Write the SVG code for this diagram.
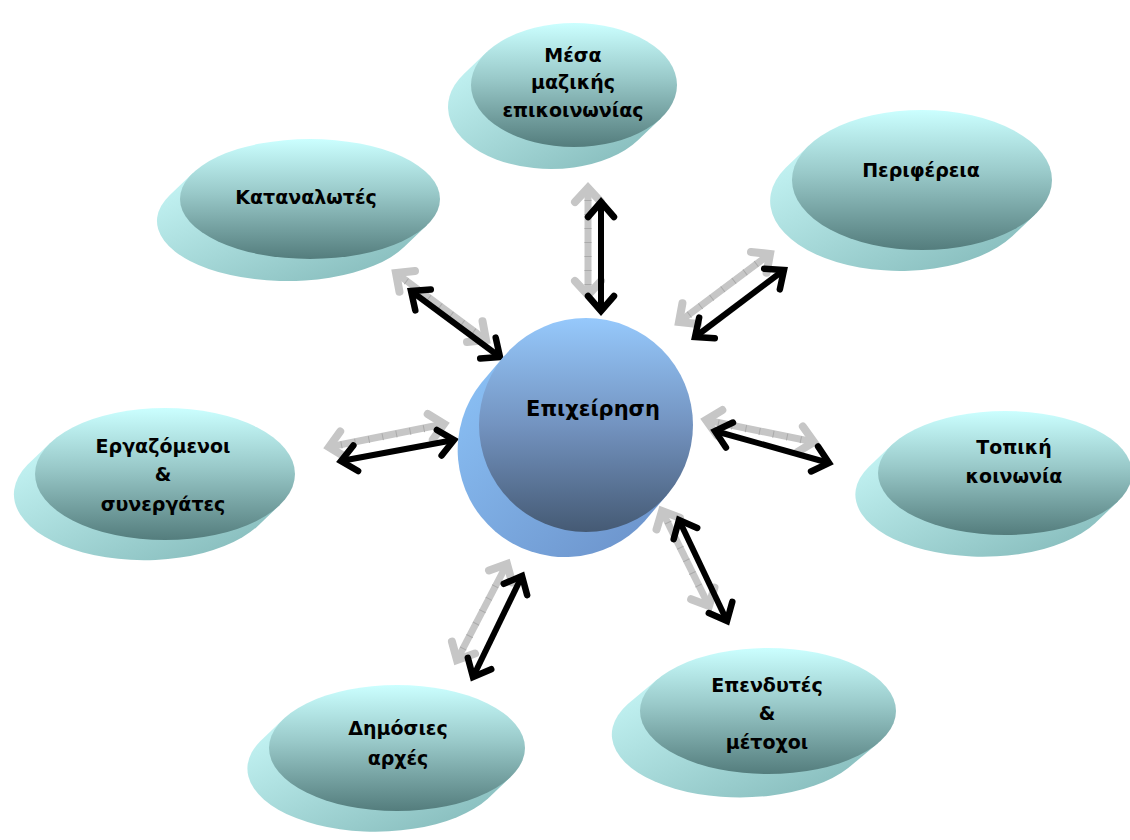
<svg xmlns="http://www.w3.org/2000/svg" width="1130" height="840" viewBox="0 0 1130 840">
<defs>
<linearGradient id="front" x1="0" y1="0" x2="0" y2="1">
<stop offset="0" stop-color="#cbffff"/>
<stop offset="0.45" stop-color="#99c9c9"/>
<stop offset="1" stop-color="#547d7d"/>
</linearGradient>
<linearGradient id="back" x1="0" y1="0" x2="1" y2="1">
<stop offset="0" stop-color="#c8f8f8"/>
<stop offset="1" stop-color="#80b6b6"/>
</linearGradient>
<linearGradient id="cfront" x1="0" y1="0" x2="0" y2="1">
<stop offset="0" stop-color="#96c9fc"/>
<stop offset="0.5" stop-color="#7393c0"/>
<stop offset="1" stop-color="#455a74"/>
</linearGradient>
<linearGradient id="cback" x1="0" y1="0" x2="1" y2="1">
<stop offset="0" stop-color="#8cc3f8"/>
<stop offset="1" stop-color="#6a90c8"/>
</linearGradient>
<marker id="hb" viewBox="-20 -20 30 40" refX="0" refY="0" markerWidth="30" markerHeight="40" markerUnits="userSpaceOnUse" orient="auto-start-reverse" overflow="visible">
<path d="M-15,-13 L0,0 L-15,13" fill="none" stroke="#000" stroke-width="6.5" stroke-linecap="round" stroke-linejoin="miter"/>
</marker>
<marker id="hg" viewBox="-20 -20 30 40" refX="0" refY="0" markerWidth="30" markerHeight="40" markerUnits="userSpaceOnUse" orient="auto-start-reverse" overflow="visible">
<path d="M-14,-13 L0,0 L-14,13" fill="none" stroke="#c6c6c6" stroke-width="8" stroke-linecap="round" stroke-linejoin="miter"/>
</marker>
</defs>
<style>
.front{fill:url(#front)}
.back{fill:url(#back)}
.t{font-family:"DejaVu Sans","Liberation Sans",sans-serif;font-weight:bold;font-size:19px;fill:#000;text-anchor:middle}
.blk{stroke:#000;stroke-width:6;fill:none;marker-start:url(#hb);marker-end:url(#hb)}
.gry{stroke:#c6c6c6;stroke-width:7;fill:none;marker-start:url(#hg);marker-end:url(#hg)}
.tick{stroke:#aaaaaa;stroke-width:7;fill:none;stroke-dasharray:1 13}
</style>

<g id="connectors">
<g id="c-media">
<line class="gry" x1="588" y1="188" x2="588" y2="295"/>
<line class="tick" x1="588" y1="200" x2="588" y2="285"/>
<line class="blk" x1="601" y1="202" x2="601" y2="311"/>
</g>
<g id="c-cons">
<line class="gry" x1="396" y1="273" x2="486" y2="340"/>
<line class="tick" x1="406" y1="281" x2="476" y2="333"/>
<line class="blk" x1="411" y1="291" x2="500" y2="357"/>
</g>
<g id="c-perif">
<line class="gry" x1="679" y1="322" x2="770" y2="254"/>
<line class="tick" x1="689" y1="315" x2="760" y2="261"/>
<line class="blk" x1="695" y1="337" x2="784" y2="270"/>
</g>
<g id="c-erg">
<line class="gry" x1="329" y1="447" x2="444" y2="424"/>
<line class="tick" x1="341" y1="445" x2="432" y2="427"/>
<line class="blk" x1="341" y1="461" x2="454" y2="440"/>
</g>
<g id="c-top">
<line class="gry" x1="706" y1="420" x2="814" y2="442"/>
<line class="tick" x1="718" y1="423" x2="802" y2="440"/>
<line class="blk" x1="715" y1="431" x2="829" y2="463"/>
</g>
<g id="c-dim">
<line class="gry" x1="457" y1="660" x2="507" y2="564"/>
<line class="tick" x1="463" y1="649" x2="501" y2="575"/>
<line class="blk" x1="473" y1="677" x2="522" y2="576"/>
</g>
<g id="c-epen">
<line class="gry" x1="662" y1="511" x2="709" y2="606"/>
<line class="tick" x1="668" y1="522" x2="703" y2="595"/>
<line class="blk" x1="679" y1="520" x2="727" y2="621"/>
</g>
</g>

<g id="n-center">
<path fill="url(#cback)" d="M667.4,494.4 L644.4,521.4 A107,107 0 0 1 481.6,382.6 L504.6,355.6 Z"/>
<circle cx="586" cy="425" r="107" fill="url(#cfront)"/>
<text class="t" x="593" y="416" style="font-size:21px">Επιχείρηση</text>
</g>

<g id="n-media">
<path class="back" d="M661.2,118 L638.2,140 A103,62 0 0 1 463.8,74 L486.8,52 Z"/>
<ellipse class="front" cx="574" cy="85" rx="103" ry="62"/>
<text class="t" x="573" y="62">Μέσα</text>
<text class="t" x="573" y="89">μαζικής</text>
<text class="t" x="573" y="117">επικοινωνίας</text>
</g>

<g id="n-cons">
<path class="back" d="M427.1,225.1 L404.1,247.1 A130,60 0 0 1 169.9,194.9 L192.9,172.9 Z"/>
<ellipse class="front" cx="310" cy="199" rx="130" ry="60"/>
<text class="t" x="306" y="204">Καταναλωτές</text>
</g>

<g id="n-perif">
<path class="back" d="M1035.3,214.3 L1012.3,236.3 A130,70 0 0 1 785.7,167.7 L808.7,145.7 Z"/>
<ellipse class="front" cx="922" cy="180" rx="130" ry="70"/>
<text class="t" x="921" y="177">Περιφέρεια</text>
</g>

<g id="n-topiki">
<path class="back" d="M1118.1,501.2 L1095.1,523.2 A127,62 0 0 1 868.9,466.8 L891.9,444.8 Z"/>
<ellipse class="front" cx="1005" cy="473" rx="127" ry="62"/>
<text class="t" x="1014" y="454">Τοπική</text>
<text class="t" x="1014" y="483">κοινωνία</text>
</g>

<g id="n-erg">
<path class="back" d="M279.8,504.9 L256.8,526.9 A130,66 0 0 1 27.2,465.1 L50.2,443.1 Z"/>
<ellipse class="front" cx="165" cy="474" rx="130" ry="66"/>
<text class="t" x="163" y="453">Εργαζόμενοι</text>
<text class="t" x="163" y="481">&amp;</text>
<text class="t" x="163" y="511">συνεργάτες</text>
</g>

<g id="n-dim">
<path class="back" d="M510.8,776.8 L487.8,798.8 A128,63 0 0 1 260.2,741.2 L283.2,719.2 Z"/>
<ellipse class="front" cx="397" cy="748" rx="128" ry="63"/>
<text class="t" x="398" y="735">Δημόσιες</text>
<text class="t" x="398" y="765">αρχές</text>
</g>

<g id="n-epen">
<path class="back" d="M878.2,743 L848.2,768 A128,63 0 0 1 627.8,704 L657.8,679 Z"/>
<ellipse class="front" cx="768" cy="711" rx="128" ry="63"/>
<text class="t" x="767" y="692">Επενδυτές</text>
<text class="t" x="767" y="720">&amp;</text>
<text class="t" x="767" y="749">μέτοχοι</text>
</g>
</svg>
